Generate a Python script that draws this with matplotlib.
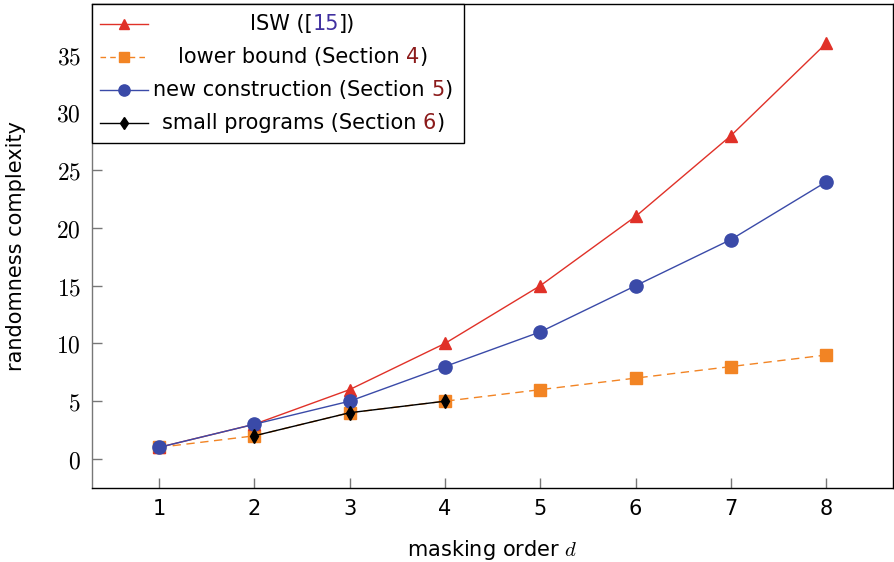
import matplotlib
matplotlib.use("Agg")
import matplotlib.pyplot as plt
from matplotlib.lines import Line2D
from matplotlib.offsetbox import (AnchoredOffsetbox, DrawingArea, HPacker,
                                  TextArea, VPacker)

# -- datos --
d = [1, 2, 3, 4, 5, 6, 7, 8]
isw = [1, 3, 6, 10, 15, 21, 28, 36]
lower = [1, 2, 4, 5, 6, 7, 8, 9]
newc = [1, 3, 5, 8, 11, 15, 19, 24]
d_small = [2, 3, 4]
small = [2, 4, 5]

yticks = [0, 5, 10, 15, 20, 25, 30, 35]

RED = "#e03128"
ORANGE = "#f28424"
BLUE = "#3a4aa8"
LINK_BLUE = "#4030a0"
LINK_RED = "#8b1a1a"

plt.rcParams["font.family"] = "DejaVu Sans"
plt.rcParams["mathtext.fontset"] = "cm"
fs = 15

fig = plt.figure(figsize=(8.94, 5.62), dpi=100)
ax = fig.add_axes([0.103, 0.132, 0.896, 0.861])

ax.plot(d, isw, color=RED, lw=1, marker="^", ms=8, zorder=3)
ax.plot(d, lower, color=ORANGE, lw=1, ls=(0, (6, 4)), marker="s", ms=8, zorder=2)
ax.plot(d, newc, color=BLUE, lw=1, marker="o", ms=9.5, zorder=4)
ax.plot(d_small, small, color="black", lw=1, marker="d", ms=7.5, zorder=5)

ax.set_xlim(0.3, 8.7)
ax.set_ylim(-2.5, 39.4)
ax.set_xticks(d)
ax.set_xticklabels([str(v) for v in d], fontsize=fs)
ax.set_yticks(yticks)
ax.set_yticklabels(["$%d$" % v for v in yticks], fontsize=fs + 2)
ax.tick_params(direction="in", length=7, width=1, color="#777777", pad=8)
ax.set_xlabel("masking order $d$", fontsize=fs, labelpad=14)
ax.set_ylabel("randomness complexity", fontsize=fs, labelpad=22)
for s in ax.spines.values():
    s.set_linewidth(1)
ax.spines["left"].set_color("#777777")

# leyenda con números en color
entries = [
    (RED, "-", "^", 8, [("ISW ([", "black"), ("15", LINK_BLUE), ("])", "black")]),
    (ORANGE, (0, (4, 3)), "s", 8, [("lower bound (Section ", "black"), ("4", LINK_RED), (")", "black")]),
    (BLUE, "-", "o", 9.5, [("new construction (Section ", "black"), ("5", LINK_RED), (")", "black")]),
    ("black", "-", "d", 7.5, [("small programs (Section ", "black"), ("6", LINK_RED), (")", "black")]),
]
rows = []
for col, ls, mk, ms, parts in entries:
    da = DrawingArea(34, 17, 0, 0)
    da.add_artist(Line2D([0, 34], [8.5, 8.5], color=col, lw=1, ls=ls))
    da.add_artist(Line2D([17], [8.5], color=col, marker=mk, ms=ms * 0.85, ls=""))
    txt = HPacker(children=[TextArea(t, textprops=dict(color=c, fontsize=fs))
                            for t, c in parts], sep=0, pad=0)
    box = VPacker(children=[txt], width=305, align="center", pad=0, sep=0)
    rows.append(HPacker(children=[da, box], sep=2, pad=0, align="center"))
leg = VPacker(children=rows, sep=6.8, pad=0, align="left")
anch = AnchoredOffsetbox(loc="upper left", child=leg, pad=0.6, borderpad=0,
                         frameon=True)
anch.patch.set_edgecolor("black")
anch.patch.set_linewidth(1)
anch.patch.set_boxstyle("square", pad=0)
anch.set_zorder(10)
ax.add_artist(anch)

fig.savefig("out.png", dpi=100)
